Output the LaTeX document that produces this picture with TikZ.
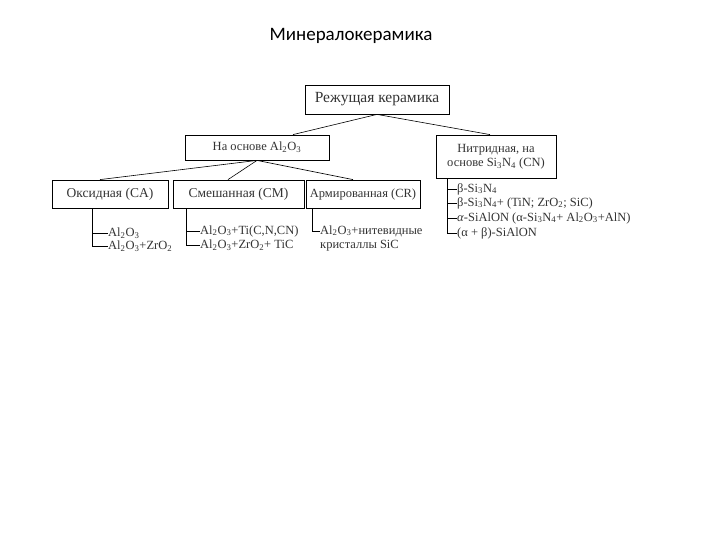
\documentclass[tikz,border=0pt]{standalone}
\usepackage{fontspec}
\setmainfont{Liberation Serif}
\newfontfamily\titlefont{Carlito}
\begin{document}
\begin{tikzpicture}[x=1pt,y=-1pt,
  box/.style={draw,line width=0.8pt,inner sep=0pt,font=\fontsize{12.5}{14}\selectfont,text=black!80},
  itm/.style={anchor=west,inner sep=0pt,font=\fontsize{12.5}{14}\selectfont,text=black!80},
  ln/.style={line width=0.6pt}]
\useasboundingbox (0,0) rectangle (720,540);
\node[font=\titlefont\fontsize{19}{22}\selectfont] (title) at (351,36) {Минералокерамика};
\node[box,minimum width=144pt,minimum height=29pt,font=\fontsize{15.5}{17}\selectfont] (root) at (377,99.5) {Режущая керамика};
\node[box,minimum width=144pt,minimum height=25pt] (al) at (257,147.5) {На основе Al\textsubscript{2}O\textsubscript{3}};
\node[box,minimum width=120pt,minimum height=43pt,align=center] (ni) at (496,156.5) {Нитридная, на\\основе Si\textsubscript{3}N\textsubscript{4} (CN)};
\node[box,minimum width=116pt,minimum height=28pt,font=\fontsize{13.5}{15}\selectfont] (ca) at (110,194) {Оксидная (CA)};
\node[box,minimum width=131pt,minimum height=28pt,font=\fontsize{13.5}{15}\selectfont] (cm) at (238.5,194) {Смешанная (CM)};
\node[box,minimum width=114pt,minimum height=28pt] (cr) at (363,194) {Армированная (CR)};
\draw[ln] (root.south) -- (al.north east -| 293,135);
\draw[ln] (root.south) -- (ni.north -| 490,135);
\draw[ln] (al.south) -- (ca.north -| 100,180);
\draw[ln] (al.south) -- (cm.north -| 228,180);
\draw[ln] (al.south) -- (cr.north -| 353,180);
% lists
\node[itm] (a1) at (108,233) {Al\textsubscript{2}O\textsubscript{3}};
\node[itm] (a2) at (108,246) {Al\textsubscript{2}O\textsubscript{3}+ZrO\textsubscript{2}};
\draw[ln] (ca.south -| 92,0) |- (a1.west);
\draw[ln] (ca.south -| 92,0) |- (a2.west);
\node[itm] (m1) at (200,231) {Al\textsubscript{2}O\textsubscript{3}+Ti(C,N,CN)};
\node[itm] (m2) at (200,245) {Al\textsubscript{2}O\textsubscript{3}+ZrO\textsubscript{2}+ TiC};
\draw[ln] (cm.south -| 186,0) |- (m1.west);
\draw[ln] (cm.south -| 186,0) |- (m2.west);
\node[itm,align=left] (r1) at (320,238) {Al\textsubscript{2}O\textsubscript{3}+нитевидные\\ кристаллы SiC};
\coordinate (r1c) at (320,231);
\draw[ln] (cr.south -| 312,0) |- (r1c);
\node[itm] (n1) at (457,189) {β-Si\textsubscript{3}N\textsubscript{4}};
\node[itm] (n2) at (457,203) {β-Si\textsubscript{3}N\textsubscript{4}+ (TiN; ZrO\textsubscript{2}; SiC)};
\node[itm] (n3) at (457,218) {\textit{α}-SiAlON (α-Si\textsubscript{3}N\textsubscript{4}+ Al\textsubscript{2}O\textsubscript{3}+AlN)};
\node[itm] (n4) at (457,233) {(α + β)-SiAlON};
\foreach \n in {n1,n2,n3,n4} \draw[ln] (ni.south -| 447,0) |- (\n.west);
\end{tikzpicture}
\end{document}
